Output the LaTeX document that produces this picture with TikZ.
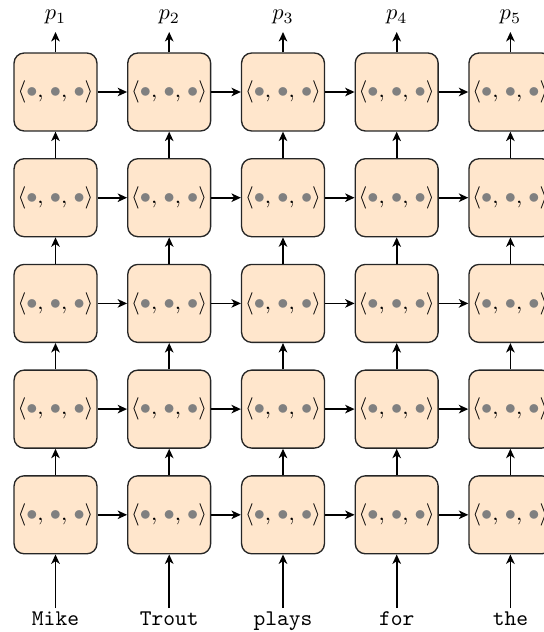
\documentclass[tikz,border=0pt]{standalone}
\usetikzlibrary{arrows.meta}
\definecolor{boxfill}{RGB}{255,230,204}
\begin{document}
\begin{tikzpicture}[x=0.4464pt,y=-0.4464pt,
  cell/.style={draw=black!85,line width=0.6pt,fill=boxfill,rounded corners=4.5pt,
    minimum width=37pt,minimum height=34.8pt,inner sep=0pt},
  arr/.style={line width=0.8pt,-{Stealth[length=4.2pt,width=3.8pt,inset=1.2pt]}},
  word/.style={font=\ttfamily,anchor=base,inner sep=0pt},
  lab/.style={inner sep=0pt}]
\useasboundingbox (0,0) rectangle (544,632);
\clip (0,0) rectangle (544,632);
\newcommand{\gb}{{\color{gray}\bullet}}
\foreach \c/\x in {1/55.5,2/169.2,3/283,4/396.7,5/510.4}{
  \foreach \r/\y in {1/92,2/197.7,3/303.4,4/409.1,5/514.8}{
    \node[cell] (n\r\c) at (\x,\y) {$\langle \gb,\mkern2mu\gb,\mkern2mu\gb\rangle$};
  }
  \coordinate (t\c) at (\x,32);
  \node[lab] (p\c) at (\x,17) {$p_{\c}$};
  \coordinate (b\c) at (\x,608);
}
\foreach \c/\w/\x in {1/Mike/55.5,2/Trout/169.2,3/plays/283,4/for/396.7,5/the/510.4}{
  \node[word] (w\c) at (\x,625) {\w};
  \draw[arr] (b\c) -- (n5\c.south);
  \draw[arr] (n1\c.north) -- (t\c);
}
\foreach \c in {1,...,5}{
  \foreach \r/\rr in {5/4,4/3,3/2,2/1}{
    \draw[arr] (n\r\c.north) -- (n\rr\c.south);
  }
}
\foreach \r in {1,...,5}{
  \foreach \c/\cc in {1/2,2/3,3/4,4/5}{
    \draw[arr] (n\r\c.east) -- (n\r\cc.west);
  }
}
\end{tikzpicture}
\end{document}
